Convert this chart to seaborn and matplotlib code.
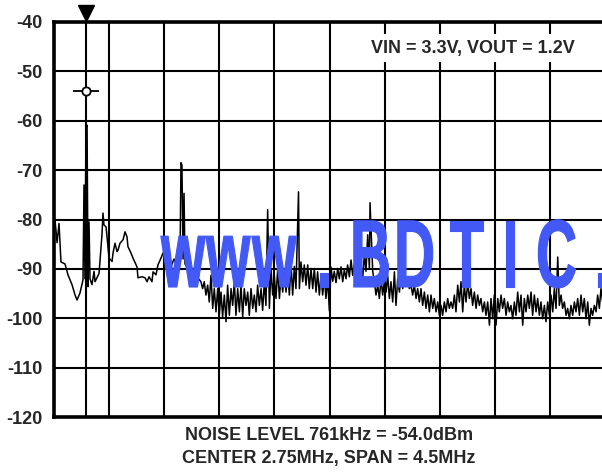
import numpy as np
import pandas as pd
import matplotlib
matplotlib.use("Agg")
import matplotlib.pyplot as plt
import seaborn as sns
from matplotlib.patheffects import Stroke
from matplotlib.transforms import Affine2D

# ---------------- data ----------------
# low-frequency part of the trace (kHz, dBm)
freq_khz = [
    508, 525, 541, 557, 590, 614, 647, 672, 688, 712, 737, 745, 753, 761, 770, 778, 786, 794,
    810, 827, 835, 851, 868, 876, 892, 900, 908, 925, 933, 949, 974, 982, 998, 1015, 1023,
    1039, 1064, 1080, 1096, 1104, 1129, 1145, 1178, 1186, 1219, 1243, 1260, 1276, 1300, 1309,
    1333, 1349, 1374, 1390, 1407, 1431, 1456, 1480, 1505, 1529, 1537, 1545, 1554, 1562, 1570,
    1594, 1619, 1643, 1668,
]
level_dbm = [
    -80.0, -84.7, -80.8, -88.6, -89.0, -91.2, -93.2, -95.3, -96.3, -94.9, -92.2, -73.0, -92.0, -61.5, -60.9, -93.6, -80.5, -92.0,
    -93.2, -90.5, -92.6, -91.8, -90.9, -88.2, -83.0, -78.7, -81.1, -81.5, -83.5, -87.8, -88.5, -86.8, -84.8, -86.5, -86.2,
    -84.8, -84.1, -82.5, -83.5, -85.5, -86.8, -87.8, -89.6, -91.8, -91.6, -91.8, -92.6, -91.6, -92.6, -90.6,
    -91.2, -89.2, -87.8, -86.8, -87.6, -88.5, -89.5, -88.0, -89.5, -89.0, -68.5, -69.0, -88.0, -74.7, -89.0,
    -90.0, -89.5, -91.0, -91.6,
]
# noisy upper part of the trace: alternating peaks and troughs (kHz, dBm)
noise_khz = [
    1700, 1714, 1727, 1741, 1755, 1768, 1782, 1796, 1809, 1823,
    1837, 1850, 1864, 1877, 1891, 1905, 1918, 1932, 1946, 1959,
    1973, 1986, 2000, 2014, 2027, 2041, 2054, 2068, 2082, 2095,
    2109, 2123, 2136, 2150, 2163, 2177, 2191, 2204, 2218, 2231,
    2245, 2259, 2272, 2286, 2299, 2313, 2327, 2341, 2354, 2368,
    2381, 2395, 2408, 2422, 2436, 2449, 2463, 2476, 2497, 2504,
    2517, 2531, 2544, 2558, 2572, 2585, 2599, 2613, 2626, 2640,
    2653, 2667, 2681, 2694, 2708, 2721, 2735, 2749, 2762, 2776,
    2789, 2803, 2817, 2830, 2844, 2858, 2871, 2885, 2898, 2912,
    2926, 2939, 2953, 2966, 2980, 2994, 3007, 3021, 3035, 3048,
    3062, 3076, 3081, 3103, 3116, 3130, 3144, 3157, 3171, 3184,
    3198, 3212, 3225, 3239, 3252, 3266, 3280, 3293, 3307, 3321,
    3334, 3348, 3361, 3375, 3389, 3402, 3416, 3429, 3443, 3457,
    3470, 3484, 3497, 3511, 3525, 3538, 3552, 3566, 3579, 3593,
    3606, 3620, 3634, 3647, 3661, 3674, 3688, 3702, 3715, 3729,
    3742, 3756, 3770, 3783, 3797, 3811, 3824, 3838, 3851, 3865,
    3879, 3892, 3906, 3919, 3933, 3947, 3960, 3974, 3987, 4001,
    4015, 4028, 4042, 4056, 4069, 4083, 4096, 4110, 4124, 4137,
    4151, 4164, 4178, 4192, 4205, 4219, 4232, 4246, 4260, 4273,
    4287, 4301, 4314, 4328, 4341, 4355, 4369, 4382, 4396, 4409,
    4423, 4437, 4450, 4464, 4477, 4491, 4505, 4518, 4532, 4546,
    4559, 4573, 4586, 4600, 4614, 4627, 4641, 4654, 4668, 4682,
    4695, 4709, 4722, 4736, 4750, 4763, 4777, 4791, 4804, 4818,
    4831, 4845, 4859, 4872, 4886, 4899, 4913, 4927, 4940, 4954,
    4967, 4981, 4995,
]
noise_dbm = [
    -92.6, -94.0, -92.6, -95.3, -93.3, -96.7, -91.3, -98.0, -94.0, -98.7,
    -94.0, -99.4, -94.7, -99.7, -95.3, -100.7, -93.3, -99.4, -94.0, -97.4,
    -92.6, -99.4, -94.0, -98.7, -93.3, -99.7, -94.0, -97.4, -94.7, -99.4,
    -94.0, -98.0, -95.3, -98.7, -93.3, -97.4, -94.0, -98.4, -92.6, -97.4,
    -78.0, -98.0, -89.9, -95.3, -91.3, -96.0, -89.9, -96.0, -91.3, -94.7,
    -90.6, -94.7, -89.9, -95.3, -88.9, -95.3, -89.5, -94.0, -74.4, -94.0,
    -88.6, -92.6, -89.2, -93.3, -89.2, -94.0, -89.9, -94.0, -89.9, -94.7,
    -90.6, -95.3, -91.3, -95.3, -91.6, -96.0, -92.0, -98.5, -89.6, -92.5,
    -90.5, -92.8, -89.9, -92.0, -89.6, -92.6, -90.2, -92.0, -89.2, -91.6,
    -88.2, -91.3, -89.0, -92.0, -88.5, -91.6, -89.0, -92.0, -87.0, -90.5,
    -83.1, -90.0, -76.6, -90.5, -92.6, -95.3, -93.3, -96.0, -92.0, -95.3,
    -92.6, -94.7, -91.3, -96.0, -92.6, -96.7, -90.6, -97.4, -92.0, -94.7,
    -91.3, -94.0, -90.6, -93.3, -92.0, -94.0, -93.3, -95.3, -93.3, -96.0,
    -94.0, -96.7, -94.0, -97.4, -94.7, -98.0, -95.3, -98.7, -95.3, -98.0,
    -96.0, -98.7, -96.7, -99.4, -97.4, -99.4, -96.7, -98.7, -96.0, -98.0,
    -96.7, -98.0, -95.3, -98.7, -93.3, -96.7, -92.6, -98.7, -93.3, -96.7,
    -92.6, -96.0, -94.0, -97.4, -94.7, -98.0, -95.3, -97.4, -96.0, -98.7,
    -96.7, -99.4, -96.7, -101.4, -96.0, -100.1, -95.3, -101.4, -96.0, -98.7,
    -95.3, -98.0, -96.0, -99.4, -96.7, -98.7, -97.4, -100.1, -96.7, -99.4,
    -94.7, -98.7, -95.3, -101.4, -96.0, -98.7, -95.3, -98.0, -94.7, -99.4,
    -95.3, -98.7, -96.0, -99.4, -96.7, -100.1, -97.4, -100.7, -96.7, -99.4,
    -95.3, -98.7, -94.0, -98.0, -87.6, -97.4, -95.3, -98.0, -96.7, -99.4,
    -98.0, -100.1, -97.4, -99.4, -96.7, -98.7, -96.0, -99.4, -95.3, -98.7,
    -96.0, -100.1, -96.7, -101.4, -98.0, -99.4, -97.4, -98.7, -95.3, -98.0,
    -94.0, -96.7, -91.6,
]
y_ticks = [-40, -50, -60, -70, -80, -90, -100, -110, -120]
marker_khz = 761
marker_dbm = -54.0
note_text = "VIN = 3.3V, VOUT = 1.2V"
footer_lines = ["NOISE LEVEL 761kHz = -54.0dBm", "CENTER 2.75MHz, SPAN = 4.5MHz"]
center_mhz = 2.75
span_mhz = 4.5
watermark_chars = ["w", "w", "w", ".", "B", "D", "T", "I", "C", "."]

assert len(freq_khz) == len(level_dbm)
assert len(noise_khz) == len(noise_dbm)

# ---------------- style ----------------
sns.set_style("white")
plt.rcParams["font.family"] = ["Liberation Sans", "DejaVu Sans"]
plt.rcParams["font.weight"] = "bold"

W, H = 602, 472
fig = plt.figure(figsize=(W / 100, H / 100), dpi=100)
ax = fig.add_axes([54 / W, 55 / H, 551 / W, 395 / H])

df = pd.DataFrame({
    "f": np.concatenate([freq_khz, noise_khz]) / 1000.0,
    "dbm": np.concatenate([level_dbm, noise_dbm]),
})
sns.lineplot(data=df, x="f", y="dbm", color="black", linewidth=1.1, ax=ax,
             estimator=None, sort=False, zorder=3)

x0 = center_mhz - span_mhz / 2
x1 = center_mhz + span_mhz / 2
ax.set_xlim(x0, x1)
ax.set_ylim(-120, -40)
ax.set_xticks(np.linspace(x0, x1, 11))
ax.set_xticklabels([])
ax.set_yticks(y_ticks)
ax.set_yticklabels([str(v) for v in y_ticks], fontsize=13, fontweight="bold")
ax.tick_params(axis="both", length=0, pad=8)
ax.set_xlabel("")
ax.set_ylabel("")
ax.grid(True, color="black", linewidth=1.5)
ax.set_axisbelow(True)
for s in ["left", "top", "bottom"]:
    ax.spines[s].set_linewidth(2.6)
    ax.spines[s].set_color("black")
ax.spines["right"].set_visible(False)

# marker
mf = marker_khz / 1000.0
ax.axvline(mf, color="black", linewidth=1.5, zorder=2)
ax.plot([mf], [marker_dbm], marker="_", ms=19, mew=1.3, color="black", zorder=4)
ax.plot([mf], [marker_dbm], marker="o", ms=6, mfc="white", mec="black", mew=1.3, zorder=5)
ax.plot([mf], [-38.2], marker="v", ms=11, color="black", clip_on=False, zorder=5)

# condition note
ax.text(3.92, -45.3, note_text, ha="center", va="center", fontsize=13, fontweight="bold",
        bbox=dict(facecolor="white", edgecolor="none", pad=4), zorder=6)

# footer
fig.text(329 / W, 1 - 436 / H, footer_lines[0], ha="center", va="center", fontsize=13, fontweight="bold")
fig.text(329 / W, 1 - 459 / H, footer_lines[1], ha="center", va="center", fontsize=13, fontweight="bold")


# watermark (tall, narrow blue lettering)
class TallStroke(Stroke):
    def __init__(self, sy, **kw):
        super().__init__(**kw)
        self.sy = sy

    def draw_path(self, renderer, gc, tpath, affine, rgbFace):
        super().draw_path(renderer, gc, tpath, Affine2D().scale(1, self.sy) + affine, rgbFace)


wm_left = [161, 206, 252, 316, 350, 394, 449, 502, 536, 594]
wm_color = "#4259F5"
for ch, xl in zip(watermark_chars, wm_left):
    fig.text(xl / W, 1 - 287 / H, ch, ha="left", va="baseline", fontsize=41,
             fontweight="bold", color=wm_color, zorder=10,
             path_effects=[TallStroke(1.69, linewidth=0.8, foreground=wm_color)])

fig.savefig("out.png", dpi=100)
